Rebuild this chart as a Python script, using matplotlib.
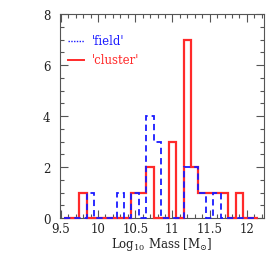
import numpy as np
import matplotlib
matplotlib.use('Agg')
import matplotlib.pyplot as plt
from matplotlib.ticker import MultipleLocator

plt.rcParams['font.family'] = 'DejaVu Serif'
plt.rcParams['mathtext.fontset'] = 'dejavuserif'
plt.rcParams['font.size'] = 8.5

# bin edges of log10 mass (width 0.1)
edges = np.round(np.arange(9.55, 12.16, 0.1), 2)
centers = np.round(edges[:-1] + 0.05, 2)

# counts per bin (bin centre -> count)
field_bins = [9.9, 10.3, 10.5, 10.7, 10.8, 11.2, 11.3, 11.4, 11.6]
field_counts = [1, 1, 1, 4, 3, 2, 2, 1, 1]
cluster_bins = [9.8, 10.5, 10.6, 10.7, 11.0, 11.2, 11.3, 11.4, 11.5, 11.6, 11.7, 11.9]
cluster_counts = [1, 1, 1, 2, 3, 7, 2, 1, 1, 1, 1, 1]

def fill_bins(bins, counts):
    h = np.zeros(len(centers))
    for b, c in zip(bins, counts):
        h[np.argmin(np.abs(centers - b))] = c
    return h

field = fill_bins(field_bins, field_counts)
cluster = fill_bins(cluster_bins, cluster_counts)

fig = plt.figure(figsize=(2.79, 2.55), dpi=100)
ax = fig.add_axes([60/279, 36/255, 204/279, 204/255])

ax.stairs(cluster, edges, color='#ff2a2a', lw=1.6, clip_on=False, zorder=3)
ax.stairs(field, edges, color='#1a1aff', lw=1.3, ls=(0, (3.5, 2.2)),
          clip_on=False, zorder=4)

ax.set_xlim(9.49, 12.23)
ax.set_ylim(0, 8)
ax.xaxis.set_major_locator(MultipleLocator(0.5))
ax.xaxis.set_minor_locator(MultipleLocator(0.1))
ax.yaxis.set_major_locator(MultipleLocator(2))
ax.yaxis.set_minor_locator(MultipleLocator(0.5))
ax.xaxis.set_major_formatter(plt.FuncFormatter(lambda v, p: f'{v:g}'))
ax.tick_params(which='both', direction='in', top=True, right=True,
               color='#555555', labelcolor='#222222', width=0.8)
ax.tick_params(which='major', length=6, pad=3)
ax.tick_params(axis='y', which='major', pad=7)
ax.tick_params(which='minor', length=3)
for s in ax.spines.values():
    s.set_color('#555555')
    s.set_linewidth(0.8)

ax.set_xlabel(r'Log$_{10}$ Mass [M$_{\odot}$]', labelpad=0, color='#222222')

# legend drawn as in the original
ax.plot([0.04, 0.12], [0.869, 0.869], transform=ax.transAxes, color='#1a1aff',
        lw=1.0, ls=(0, (1, 1)))
ax.text(0.155, 0.869, "'field'", transform=ax.transAxes, color='#1a1aff',
        va='center', ha='left')
ax.plot([0.04, 0.12], [0.775, 0.775], transform=ax.transAxes, color='#ff2a2a',
        lw=1.4)
ax.text(0.155, 0.775, "'cluster'", transform=ax.transAxes, color='#ff2a2a',
        va='center', ha='left')

fig.savefig('out.png', dpi=100)
